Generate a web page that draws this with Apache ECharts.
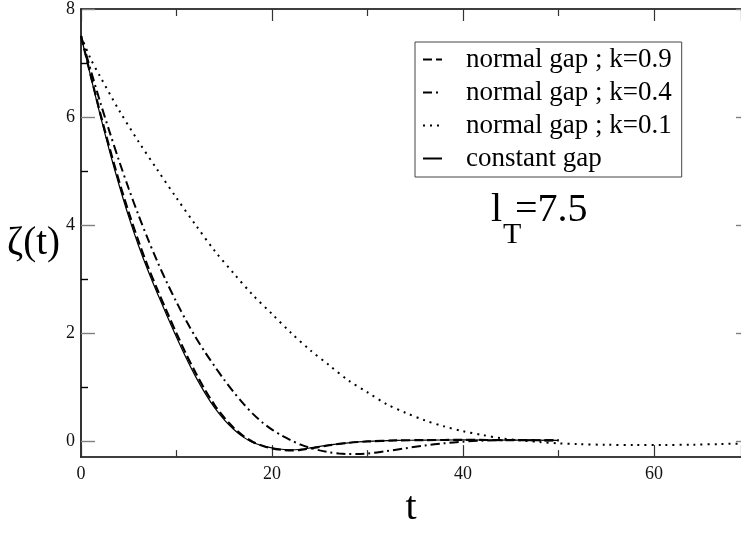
<!DOCTYPE html>
<html>
<head>
<meta charset="utf-8">
<script src="https://cdn.jsdelivr.net/npm/echarts@6/dist/echarts.min.js"></script>
<style>
  html, body { margin: 0; padding: 0; background: #fff; }
  #zeta-chart { width: 741px; height: 533px; }
</style>
</head>
<body>
<div id="zeta-chart"></div>
<script>
// constant gap
const tConst = [0, 1, 2, 3, 4, 5, 6, 7, 8, 9, 10, 11, 12, 13, 14, 15, 16, 17, 18, 19, 20, 21, 22, 23, 24, 26, 28, 30, 33, 36, 40, 45, 50]
const zConst = [7.5, 6.76, 6.04, 5.36, 4.73, 4.15, 3.63, 3.16, 2.73, 2.32, 1.92, 1.54, 1.19, 0.88, 0.61, 0.39, 0.21, 0.07, -0.03, -0.09, -0.13, -0.155, -0.165, -0.155, -0.13, -0.075, -0.035, -0.01, 0.008, 0.015, 0.018, 0.015, 0.01]
// normal gap ; k=0.9
const tK09 = [0, 1, 2, 3, 4, 5, 6, 7, 8, 9, 10, 11, 12, 13, 14, 15, 16, 17, 18, 19, 20, 21, 22, 23, 24, 26, 28, 30, 33, 36, 40, 45, 50]
const zK09 = [7.5, 6.78, 6.08, 5.42, 4.8, 4.23, 3.71, 3.23, 2.8, 2.39, 1.99, 1.61, 1.26, 0.94, 0.66, 0.43, 0.24, 0.09, -0.02, -0.09, -0.14, -0.165, -0.175, -0.165, -0.14, -0.08, -0.035, -0.01, 0.008, 0.015, 0.018, 0.015, 0.01]
// normal gap ; k=0.4
const tK04 = [0, 1, 2, 3, 4, 5, 6, 7, 8, 9, 10, 11, 12, 13, 14, 15, 16, 17, 18, 19, 20, 21, 22, 23, 24, 25, 26, 27, 28, 29, 30, 32, 34, 36, 38, 40, 42, 45, 50]
const zK04 = [7.5, 6.88, 6.28, 5.72, 5.18, 4.67, 4.19, 3.74, 3.32, 2.93, 2.57, 2.23, 1.92, 1.64, 1.38, 1.13, 0.9, 0.69, 0.5, 0.34, 0.21, 0.1, 0.01, -0.07, -0.13, -0.175, -0.21, -0.232, -0.243, -0.243, -0.233, -0.19, -0.135, -0.085, -0.045, -0.015, 0.005, 0.015, 0.01]
// normal gap ; k=0.1
const tK01 = [0, 1, 2, 4, 6, 8, 10, 12, 14, 16, 18, 20, 22, 24, 26, 28, 30, 32, 34, 36, 38, 40, 42, 44, 46, 48, 50, 52, 55, 58, 61, 64, 67, 70]
const zK01 = [7.5, 7.08, 6.75, 6.12, 5.55, 5.02, 4.5, 4.0, 3.52, 3.1, 2.7, 2.35, 2.0, 1.68, 1.4, 1.12, 0.9, 0.68, 0.52, 0.38, 0.27, 0.18, 0.11, 0.05, 0.01, -0.02, -0.045, -0.06, -0.072, -0.076, -0.075, -0.07, -0.058, -0.045]

const seriesNames = ['normal gap ; k=0.9', 'normal gap ; k=0.4', 'normal gap ; k=0.1', 'constant gap']
const yMajorTicks = [0, 2, 4, 6, 8]
const yMinorTicks = [1, 3, 5, 7]

const FONT = 'Liberation Serif'

function pairs(ts, zs) {
  return ts.map((t, i) => [t, zs[i]])
}

function yAxisBase(position, major, tickLen) {
  return {
    type: 'value',
    min: -0.3,
    max: 8,
    position: position,
    axisLine: { show: major && position === 'left', lineStyle: { color: '#000', width: 1.6 } },
    axisTick: {
      inside: true,
      length: tickLen,
      customValues: major ? yMajorTicks : yMinorTicks,
      lineStyle: { color: major ? '#808080' : '#000', width: 1.4 }
    },
    axisLabel: { show: false },
    splitLine: { show: false }
  }
}

function xAxisBase(position) {
  return {
    type: 'value',
    min: 0,
    max: 69.1, // plot is cut off at the right edge of the picture
    interval: 20,
    position: position,
    axisLine: { show: true, onZero: false, lineStyle: { color: '#000', width: 1.6 } },
    axisTick: { inside: true, length: 12, lineStyle: { color: '#333', width: 1.2 } },
    minorTick: { show: true, splitNumber: 2, length: 7, lineStyle: { color: '#333', width: 1.2 } },
    axisLabel: { show: false },
    splitLine: { show: false }
  }
}

const xBottom = xAxisBase('bottom')
xBottom.axisLabel = { show: true, margin: 8, fontSize: 18, fontFamily: FONT, color: '#111', showMaxLabel: false }
xBottom.name = 't'
xBottom.nameLocation = 'middle'
xBottom.nameGap = 28
xBottom.nameTextStyle = { fontSize: 40, fontFamily: FONT, color: '#000' }

const yLeft = yAxisBase('left', true, 14)
yLeft.axisLabel = { show: true, customValues: yMajorTicks, margin: 6, fontSize: 18, fontFamily: FONT, color: '#111' }

const chartOption = {
  animation: false,
  backgroundColor: '#fff',
  grid: { left: 81, top: 9, width: 660, height: 469, containLabel: false },
  legend: {
    orient: 'vertical',
    left: 415,
    top: 42,
    padding: [4, 10, 5, 7],
    itemGap: 6,
    itemWidth: 19,
    itemHeight: 14,
    borderColor: '#444',
    borderWidth: 1,
    itemStyle: { opacity: 0 },
    textStyle: { fontSize: 27, lineHeight: 27, fontFamily: FONT, color: '#000', padding: [0, 0, 0, 19] },
    data: seriesNames
  },
  xAxis: [xBottom, xAxisBase('top')],
  yAxis: [yLeft, yAxisBase('left', false, 7), yAxisBase('right', true, 5)],
  graphic: [
    // y axis title
    { type: 'text', left: 7, top: 224, style: { text: 'ζ(t)', fontSize: 39, fontFamily: FONT, fill: '#000' } },
    // l_T=7.5 annotation
    { type: 'text', left: 491, top: 190, style: { text: 'l', fontSize: 40, fontFamily: FONT, fill: '#000' } },
    { type: 'text', left: 503, top: 220, style: { text: 'T', fontSize: 30, fontFamily: FONT, fill: '#000' } },
    { type: 'text', left: 515, top: 190, style: { text: '=7.5', fontSize: 40, fontFamily: FONT, fill: '#000' } }
  ],
  series: [
    {
      name: seriesNames[0],
      type: 'line',
      symbol: 'none',
      smooth: 0.3,
      data: pairs(tK09, zK09),
      lineStyle: { color: '#000', width: 2.2, type: [9, 4] }
    },
    {
      name: seriesNames[1],
      type: 'line',
      symbol: 'none',
      smooth: 0.3,
      data: pairs(tK04, zK04),
      lineStyle: { color: '#000', width: 2, type: [9, 4, 2, 4] }
    },
    {
      name: seriesNames[2],
      type: 'line',
      symbol: 'none',
      smooth: 0.3,
      data: pairs(tK01, zK01),
      lineStyle: { color: '#000', width: 2, type: [2, 5] }
    },
    {
      name: seriesNames[3],
      type: 'line',
      symbol: 'none',
      smooth: 0.3,
      data: pairs(tConst, zConst),
      lineStyle: { color: '#000', width: 1.2 }
    }
  ]
}

const chartObj = echarts.init(document.getElementById('zeta-chart'))
chartObj.setOption(chartOption, true)
</script>
</body>
</html>
